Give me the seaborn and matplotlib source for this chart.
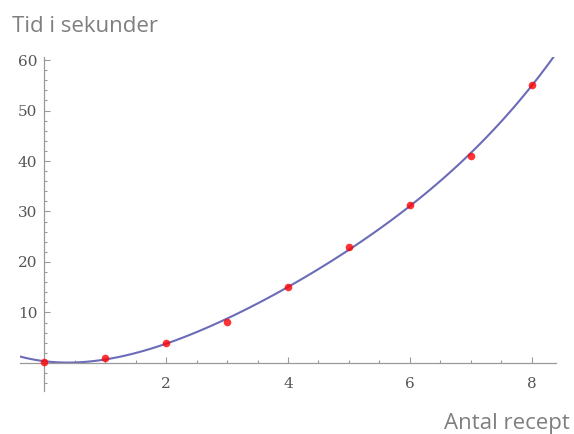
import matplotlib
matplotlib.use("Agg")
import matplotlib.pyplot as plt
import pandas as pd
import seaborn as sns
from matplotlib.ticker import MultipleLocator, FixedLocator

# data
antal = [0, 1, 2, 3, 4, 5, 6, 7, 8]
tid = [0.2, 1.0, 4.0, 8.1, 15.0, 23.0, 31.2, 41.05, 55.1]
x_ticks = [2, 4, 6, 8]
y_ticks = [10, 20, 30, 40, 50, 60]

df = pd.DataFrame({"antal": antal, "tid": tid})

sns.set_theme(style="white")
plt.rcParams["font.family"] = ["Open Sans", "DejaVu Sans"]

fig = plt.figure(figsize=(5.74, 4.34), dpi=100)
ax = fig.add_axes([0.0347, 0.0986, 0.934, 0.770])
ax.set_xlim(-0.4, 8.4)
ax.set_ylim(-5.6, 60.6)

sns.regplot(
    data=df, x="antal", y="tid", order=4, ci=None, truncate=False, ax=ax,
    scatter_kws={"color": "#ff0000", "s": 30, "zorder": 3, "linewidths": 0},
    line_kws={"color": "#6b6bb8", "lw": 1.5, "zorder": 2},
)
ax.set_xlim(-0.4, 8.4)
ax.set_ylim(-5.6, 60.6)
ax.set_xlabel("")
ax.set_ylabel("")

for side in ["top", "right"]:
    ax.spines[side].set_visible(False)
for side in ["left", "bottom"]:
    ax.spines[side].set_position(("data", 0))
    ax.spines[side].set_color("#9a9a9a")
    ax.spines[side].set_linewidth(0.9)

ax.xaxis.set_major_locator(FixedLocator(x_ticks))
ax.xaxis.set_minor_locator(MultipleLocator(0.5))
ax.yaxis.set_major_locator(FixedLocator(y_ticks))
ax.yaxis.set_minor_locator(MultipleLocator(2))
ax.tick_params(which="both", direction="in", color="#9a9a9a", width=0.8,
               labelcolor="#555555", labelsize=11,
               labelfontfamily="DejaVu Serif")
ax.tick_params(which="major", length=4.5)
ax.tick_params(which="minor", length=2.3)
ax.tick_params(axis="x", which="both", bottom=True, pad=10)
ax.tick_params(axis="y", which="both", left=True, pad=5)

fig.text(0.021, 0.926, "Tid i sekunder", fontsize=16, color="#7f7f7f",
         ha="left", va="baseline")
fig.text(0.993, 0.0115, "Antal recept", fontsize=16, color="#7f7f7f",
         ha="right", va="baseline")

fig.savefig("out.png", dpi=100)
